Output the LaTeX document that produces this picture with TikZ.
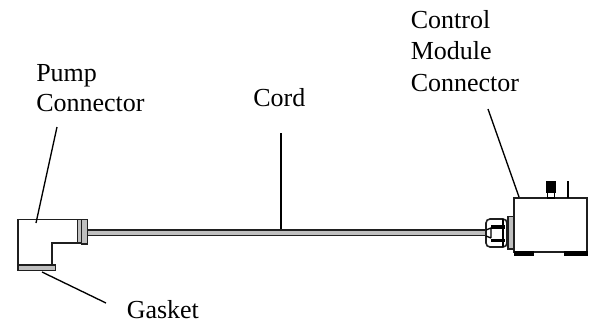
\documentclass[tikz,border=0pt]{standalone}
\usepackage{fontspec}
\setmainfont{Liberation Serif}
\definecolor{cgray}{gray}{0.75}
\tikzset{
  lbl/.style={align=left,anchor=north west,inner sep=0pt,font=\fontsize{19.5}{#1}\selectfont},
  lead/.style={line width=1pt,black},
  partline/.style={line width=1.2pt,draw=black!88,line join=miter}
}
\begin{document}
\begin{tikzpicture}[x=0.75pt,y=-0.75pt]
\useasboundingbox (0,0) rectangle (595,322);
% text
\node[lbl=22pt] (pump) at (36,64.5) {Pump\\Connector};
\node[lbl=22pt] (cord) at (253,88) {Cord};
\node[lbl=22pt] (gasket) at (126.5,300) {Gasket};
\node[lbl=23.6pt] (ctrl) at (410.5,10) {Control\\Module\\Connector};
% cord
\fill[cgray] (88,230) rectangle (486,236);
\draw[line width=1pt,black!88] (88,230) -- (486,230);
\draw[line width=1pt,black!88] (88,235.7) -- (486,235.7);
% pump connector
\draw[partline] (18,219.5) -- (87.5,219.5) -- (87.5,243) -- (52,243) -- (52,265) -- (18,265) -- cycle;
\draw[partline,fill=cgray] (18,265) rectangle (55.5,270.5);
\draw[partline,fill=cgray] (77.5,219.5) rectangle (81.5,243);
\draw[partline,fill=cgray] (81.5,219.5) rectangle (87.5,244);
% control module
\draw[partline,line width=1.5pt] (514,198) rectangle (587,252);
\fill[black] (513.5,251) rectangle (534,255.5);
\fill[black] (564,251) rectangle (587.7,255.5);
% pins
\fill[black] (546,181) rectangle (556,193);
\draw[line width=1.1pt] (547.5,191) rectangle (554.5,198);
\draw[line width=1.3pt] (568,181) -- (568,198);
% gland
\draw[partline,fill=cgray] (508,216.5) rectangle (514,249);
\draw[partline,rounded corners=3pt] (486,219) -- (507,219) -- (507,247) -- (486,247) -- cycle;
\draw[line width=1pt] (491,228) -- (491,238) (486,230) -- (491,228) (486,236) -- (491,238);
\fill[black] (491,225) rectangle (505,228.5);
\fill[black] (491,238.5) rectangle (505,242);
\draw[line width=1pt] (503,219) -- (503,247);
% leaders
\coordinate (a1) at (36,223);
\coordinate (a2) at (57,127);
\coordinate (b1) at (42,272);
\coordinate (b2) at (106,303);
\coordinate (c1) at (281,133);
\coordinate (c2) at (281,229);
\coordinate (d1) at (488,109);
\coordinate (d2) at (519,197);
\draw[lead] (a1) -- (a2);
\draw[lead] (b1) -- (b2);
\draw[lead] (c1) -- (c2);
\draw[lead] (d1) -- (d2);
\end{tikzpicture}
\end{document}
